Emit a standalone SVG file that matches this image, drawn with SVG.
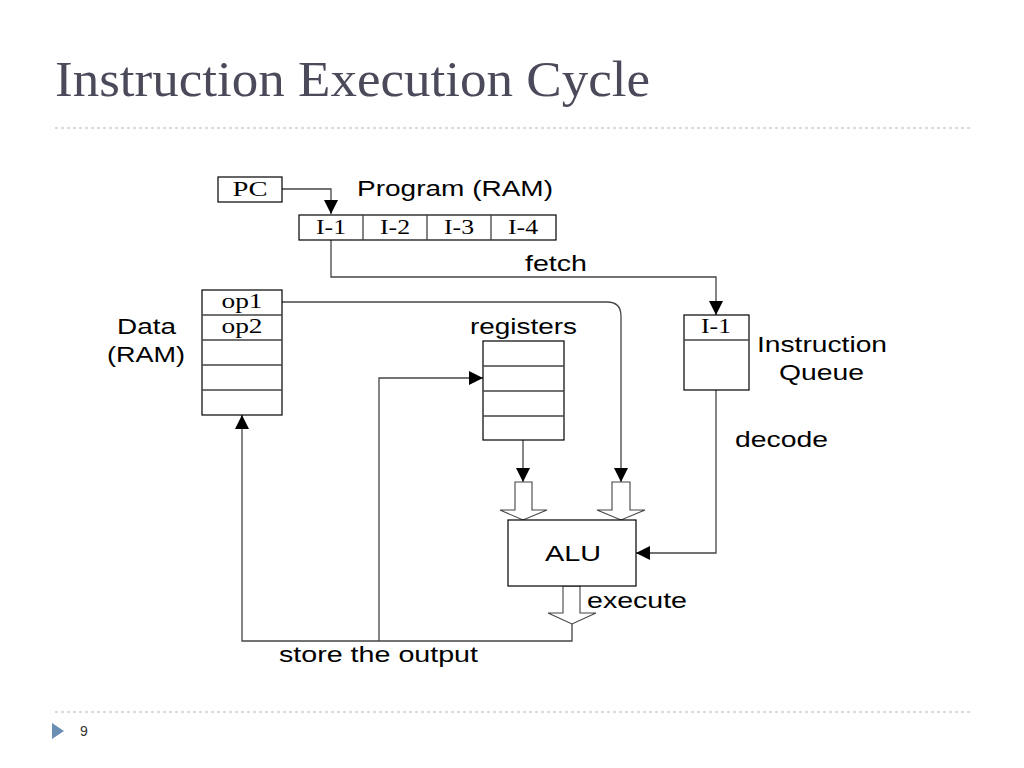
<svg xmlns="http://www.w3.org/2000/svg" width="1024" height="768" viewBox="0 0 1024 768">
<style>
.b{fill:#fff;stroke:#000;stroke-width:1.2}
.l{fill:none;stroke:#444;stroke-width:1.3}
.h{fill:#fff;stroke:#444;stroke-width:1.1}
.s{font-family:"Liberation Sans",Arial,sans-serif;font-size:22px;fill:#000}
.t{font-family:"Liberation Serif","Times New Roman",serif;font-size:21px;fill:#000;text-anchor:middle}
</style>
<defs><marker id="a" viewBox="0 0 10 10" refX="10" refY="5" markerWidth="14" markerHeight="14" markerUnits="userSpaceOnUse" orient="auto"><path d="M0,0L10,5L0,10z" fill="#000"/></marker></defs>
<rect width="1024" height="768" fill="#fff"/>
<text x="55" y="96" font-family="Liberation Serif,serif" font-size="50" fill="#4a4a5a" textLength="595" lengthAdjust="spacingAndGlyphs">Instruction Execution Cycle</text>
<line x1="55" y1="128" x2="972" y2="128" stroke="#a9b7c6" stroke-dasharray="3,3"/>
<line x1="55" y1="712" x2="972" y2="712" stroke="#a9b7c6" stroke-dasharray="3,3"/>
<path d="M52,723L64,731L52,739z" fill="#6b8fb3"/>
<text x="80" y="736" font-family="Liberation Sans,sans-serif" font-size="14" fill="#333">9</text>
<g id="connectors">
<path class="l" d="M282,189H331V214" marker-end="url(#a)"/>
<path class="l" d="M331,240V277H716V315" marker-end="url(#a)"/>
<path class="l" d="M282,302H607Q621,302 621,316V482" marker-end="url(#a)"/>
<path class="l" d="M523,440V482" marker-end="url(#a)"/>
<path class="l" d="M379,641V378H483" marker-end="url(#a)"/>
<path class="l" d="M572,624V641H242V415" marker-end="url(#a)"/>
<path class="l" d="M716,390V553H636" marker-end="url(#a)"/>
<path class="h" d="M515,482H532V510H547L523,520L500,510H515z"/>
<path class="h" d="M612,482H630V510H645L621,520L597,510H612z"/>
<path class="h" d="M563,586H580V613H596L572,624L548,613H563z"/>
</g>
<g id="pc"><rect class="b" x="218" y="177" width="64" height="25"/><text class="t" x="250" y="196" textLength="35" lengthAdjust="spacingAndGlyphs">PC</text></g>
<g id="program">
<rect class="b" x="299" y="215" width="257" height="25"/>
<path class="l" d="M363,215V240M427,215V240M491,215V240"/>
<text class="t" x="331" y="234" textLength="30" lengthAdjust="spacingAndGlyphs">I-1</text><text class="t" x="395" y="234" textLength="30" lengthAdjust="spacingAndGlyphs">I-2</text><text class="t" x="459" y="234" textLength="30" lengthAdjust="spacingAndGlyphs">I-3</text><text class="t" x="523" y="234" textLength="30" lengthAdjust="spacingAndGlyphs">I-4</text>
<text class="s" x="357" y="196" textLength="196" lengthAdjust="spacingAndGlyphs">Program (RAM)</text>
</g>
<text class="s" x="525" y="271" textLength="62" lengthAdjust="spacingAndGlyphs">fetch</text>
<g id="data">
<rect class="b" x="202" y="290" width="80" height="125"/>
<path class="l" d="M202,315H282M202,340H282M202,365H282M202,390H282"/>
<text class="t" x="242" y="308" textLength="41" lengthAdjust="spacingAndGlyphs">op1</text><text class="t" x="242" y="333" textLength="41" lengthAdjust="spacingAndGlyphs">op2</text>
<text class="s" x="117" y="334" textLength="59" lengthAdjust="spacingAndGlyphs">Data</text><text class="s" x="107" y="362" textLength="78" lengthAdjust="spacingAndGlyphs">(RAM)</text>
</g>
<g id="registers">
<rect class="b" x="483" y="341" width="81" height="99"/>
<path class="l" d="M483,366H564M483,391H564M483,416H564"/>
<text class="s" x="470" y="334" textLength="107" lengthAdjust="spacingAndGlyphs">registers</text>
</g>
<g id="queue">
<rect class="b" x="684" y="315" width="65" height="75"/>
<path class="l" d="M684,340H749"/>
<text class="t" x="716" y="333" textLength="30" lengthAdjust="spacingAndGlyphs">I-1</text>
<text class="s" x="757" y="352" textLength="130" lengthAdjust="spacingAndGlyphs">Instruction</text><text class="s" x="779" y="380" textLength="85" lengthAdjust="spacingAndGlyphs">Queue</text>
</g>
<text class="s" x="735" y="447" textLength="93" lengthAdjust="spacingAndGlyphs">decode</text>
<g id="alu"><rect class="b" x="508" y="520" width="128" height="66"/><text class="s" x="545" y="561" textLength="56" lengthAdjust="spacingAndGlyphs">ALU</text></g>
<text class="s" x="587" y="608" textLength="100" lengthAdjust="spacingAndGlyphs">execute</text>
<text class="s" x="279" y="662" textLength="199" lengthAdjust="spacingAndGlyphs">store the output</text>
</svg>
